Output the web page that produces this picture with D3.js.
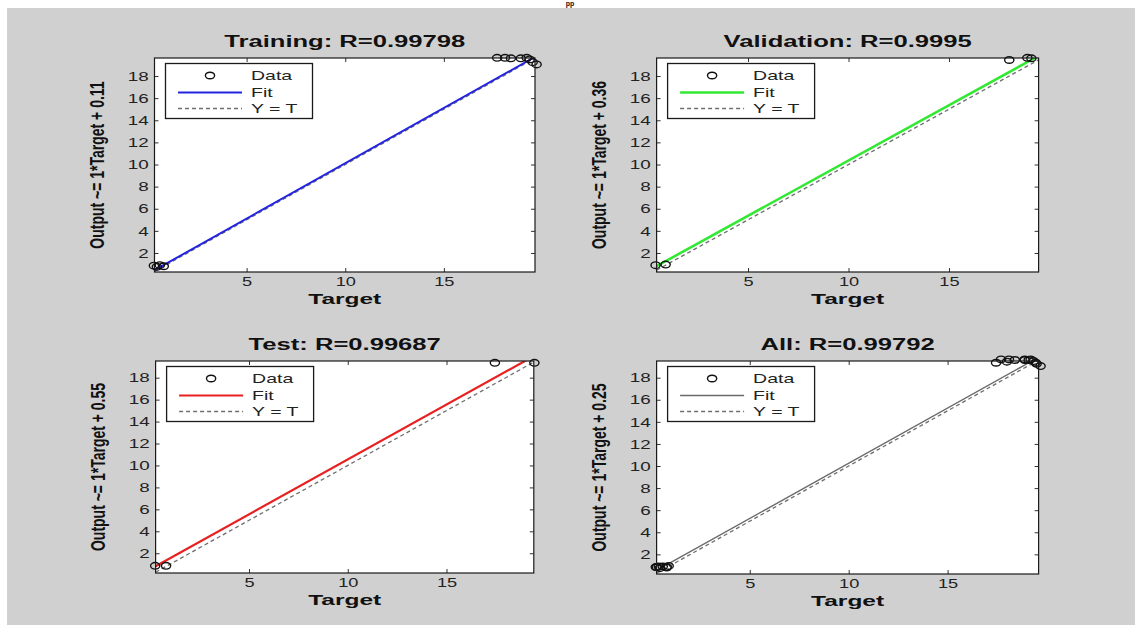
<!DOCTYPE html>
<html><head><meta charset="utf-8">
<script src="https://cdn.jsdelivr.net/npm/d3@7"></script>
<style>
body{margin:0;background:#fff;}
svg text{font-family:"Liberation Sans",Arial,Helvetica,sans-serif;}
</style>
</head><body>
<svg id="chart" width="1142" height="639"></svg>
<script>
// ---------------- data ----------------
const panelTitles = ["Training: R=0.99798", "Validation: R=0.9995", "Test: R=0.99687", "All: R=0.99792"];
const fitSlope = [1, 1, 1, 1];
const fitIntercept = [0.11, 0.36, 0.55, 0.25];

const trainingTarget = [0.3, 0.45, 0.6, 0.8, 17.7, 18.1, 18.4, 18.9, 19.2, 19.35, 19.5, 19.7];
const trainingOutput = [0.85, 0.75, 0.9, 0.8, 19.65, 19.65, 19.6, 19.6, 19.65, 19.5, 19.25, 19.05];
const validationTarget = [0.4, 0.9, 18.0, 18.9, 19.1];
const validationOutput = [0.9, 0.95, 19.45, 19.65, 19.6];
const testTarget = [0.25, 0.8, 17.45, 19.45];
const testOutput = [0.85, 0.85, 19.35, 19.35];
const allTarget = [].concat(trainingTarget, validationTarget, testTarget);
const allOutput = [].concat(trainingOutput, validationOutput, testOutput);

const panelTargets = [trainingTarget, validationTarget, testTarget, allTarget];
const panelOutputs = [trainingOutput, validationOutput, testOutput, allOutput];

const axisXLimits = [[0.33, 19.62], [0.45, 19.46], [0.27, 19.42], [0.29, 19.6]];
const axisYLimits = [[0.28, 19.63], [0.28, 19.63], [0.2, 19.52], [0.22, 19.51]];
const xTickValues = [5, 10, 15];
const yTickValues = [2, 4, 6, 8, 10, 12, 14, 16, 18];
const legendLabels = ["Data", "Fit", "Y = T"];

// ---------------- layout / style ----------------
const boxes = [
  {l: 154.5, r: 535, t: 58, b: 272},
  {l: 656.6, r: 1038.6, t: 58, b: 272},
  {l: 155.6, r: 533.8, t: 361, b: 573},
  {l: 656.6, r: 1038.6, t: 361, b: 574}
];
const fitColors = ["#2323e0", "#33e833", "#e82020", "#6a6a6a"];
const fitWidths = [2, 2.6, 2.2, 1.4];

const svg = d3.select("#chart");
svg.append("rect").attr("x", 0).attr("y", 0).attr("width", 1142).attr("height", 639).attr("fill", "#ffffff");
svg.append("rect").attr("x", 7).attr("y", 8).attr("width", 1128).attr("height", 617).attr("fill", "#d0d0d0");
svg.append("text").attr("x", 570).attr("y", 6).attr("text-anchor", "middle")
  .attr("font-size", 7).attr("font-weight", "bold").attr("fill", "#111").text("pp");

panelTitles.forEach((title, i) => {
  const bx = boxes[i];
  const x = d3.scaleLinear().domain(axisXLimits[i]).range([bx.l, bx.r]);
  const y = d3.scaleLinear().domain(axisYLimits[i]).range([bx.b, bx.t]);
  const g = svg.append("g");

  g.append("rect").attr("x", bx.l).attr("y", bx.t).attr("width", bx.r - bx.l).attr("height", bx.b - bx.t).attr("fill", "#fff");

  const clipId = "clip" + i;
  g.append("clipPath").attr("id", clipId).append("rect")
    .attr("x", bx.l).attr("y", bx.t).attr("width", bx.r - bx.l).attr("height", bx.b - bx.t);

  const xd = x.domain();
  const line = d3.line().x(d => x(d[0])).y(d => y(d[1]));
  // Y = T
  g.append("path").attr("clip-path", `url(#${clipId})`)
    .attr("d", line(xd.map(v => [v, v])))
    .attr("fill", "none").attr("stroke", "#6f6f6f").attr("stroke-width", 1.3).attr("stroke-dasharray", "4,3");
  // Fit
  g.append("path").attr("clip-path", `url(#${clipId})`)
    .attr("d", line(xd.map(v => [v, fitSlope[i] * v + fitIntercept[i]])))
    .attr("fill", "none").attr("stroke", fitColors[i]).attr("stroke-width", fitWidths[i]);
  // Data
  const pts = panelTargets[i].map((t, k) => [t, panelOutputs[i][k]]);
  g.selectAll("ellipse.dat").data(pts).enter().append("ellipse").attr("class", "dat")
    .attr("cx", d => x(d[0])).attr("cy", d => y(d[1])).attr("rx", 4.6).attr("ry", 3.3)
    .attr("fill", "none").attr("stroke", "#111").attr("stroke-width", 1.4);

  // Axes
  const styleAxis = (sel) => {
    sel.select(".domain").remove();
    sel.selectAll(".tick line").attr("stroke", "#333");
    sel.selectAll(".tick text").attr("font-size", 13).attr("fill", "#222").attr("font-family", null);
  };
  const xa = g.append("g").attr("transform", `translate(0,${bx.b})`)
    .call(d3.axisBottom(x).tickValues(xTickValues).tickSize(-4).tickPadding(5).tickFormat(d3.format("d")));
  styleAxis(xa);
  xa.selectAll(".tick text").attr("transform", "scale(1.4,1)");
  const xt = g.append("g").attr("transform", `translate(0,${bx.t})`)
    .call(d3.axisTop(x).tickValues(xTickValues).tickSize(-4).tickFormat(""));
  styleAxis(xt);
  const ya = g.append("g").attr("transform", `translate(${bx.l},0)`)
    .call(d3.axisLeft(y).tickValues(yTickValues).tickSize(-4).tickPadding(4).tickFormat(d3.format("d")));
  styleAxis(ya);
  ya.selectAll(".tick text").attr("transform", "scale(1.45,1)");
  const yr = g.append("g").attr("transform", `translate(${bx.r},0)`)
    .call(d3.axisRight(y).tickValues(yTickValues).tickSize(-4).tickFormat(""));
  styleAxis(yr);

  g.append("rect").attr("x", bx.l).attr("y", bx.t).attr("width", bx.r - bx.l).attr("height", bx.b - bx.t)
    .attr("fill", "none").attr("stroke", "#1a1a1a").attr("stroke-width", 1.2);

  // Legend
  const lx = bx.l + 11, ly = bx.t + 5.5;
  const lg = g.append("g").attr("transform", `translate(${lx},${ly})`);
  lg.append("rect").attr("width", 147).attr("height", 55).attr("fill", "#fff")
    .attr("stroke", "#1a1a1a").attr("stroke-width", 1.3);
  const rows = [12, 29, 45];
  lg.append("ellipse").attr("cx", 44.5).attr("cy", rows[0]).attr("rx", 4.6).attr("ry", 3.3)
    .attr("fill", "none").attr("stroke", "#111").attr("stroke-width", 1.4);
  lg.append("line").attr("x1", 12.5).attr("x2", 76.5).attr("y1", rows[1]).attr("y2", rows[1])
    .attr("stroke", fitColors[i]).attr("stroke-width", fitWidths[i]);
  lg.append("line").attr("x1", 12.5).attr("x2", 76.5).attr("y1", rows[2]).attr("y2", rows[2])
    .attr("stroke", "#6f6f6f").attr("stroke-width", 1.3).attr("stroke-dasharray", "4,3");
  legendLabels.forEach((lab, k) => {
    lg.append("text").attr("transform", `translate(85.5,${rows[k] + 4.5}) scale(1.5,1)`)
      .attr("font-size", 13).attr("fill", "#222").text(lab);
  });

  // Title
  g.append("text").attr("transform", `translate(${(bx.l + bx.r) / 2},${bx.t - 11}) scale(1.6,1)`)
    .attr("text-anchor", "middle").attr("font-size", 16).attr("font-weight", "bold").attr("fill", "#111").text(title);
  // X label
  g.append("text").attr("transform", `translate(${(bx.l + bx.r) / 2},${bx.b + 32}) scale(1.75,1)`)
    .attr("text-anchor", "middle").attr("font-size", 14).attr("font-weight", "bold").attr("fill", "#111").text("Target");
  // Y label
  g.append("text").attr("transform", `translate(${bx.l - 51},${(bx.t + bx.b) / 2}) scale(1.45,1) rotate(-90)`)
    .attr("text-anchor", "middle").attr("font-size", 14).attr("font-weight", "bold").attr("fill", "#111")
    .text(`Output ~= ${fitSlope[i]}*Target + ${fitIntercept[i]}`);
});
</script>
</body></html>
